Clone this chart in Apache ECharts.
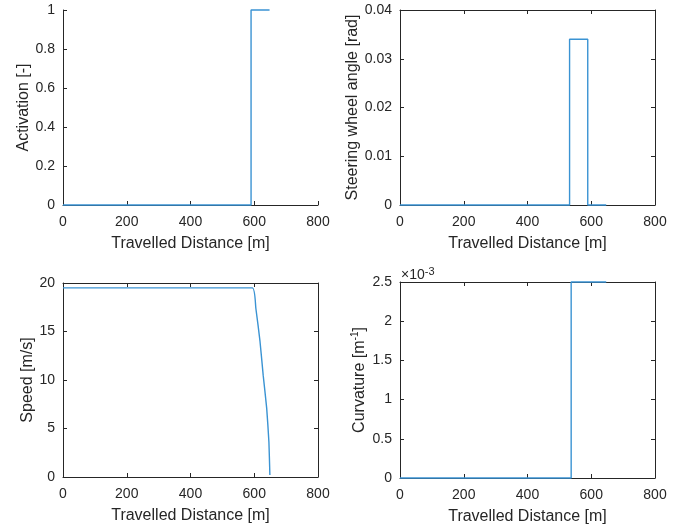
<!DOCTYPE html>
<html>
<head>
<meta charset="utf-8">
<script src="https://cdn.jsdelivr.net/npm/echarts@6/dist/echarts.min.js"></script>
<style>
html,body{margin:0;padding:0;background:#fff;}
#c{width:683px;height:527px;}
</style>
</head>
<body>
<div id="c"></div>
<script>
// ---- data ----
var xTicks = [0, 200, 400, 600, 800];
var distAct = [0, 590, 590, 648];
var activation = [0, 0, 1, 1];

var distSteer = [0, 532, 532, 589, 589, 647];
var steering = [0, 0, 0.034, 0.034, 0, 0];

var distSpeed = [0, 594, 605, 618, 628, 639, 646, 649];
var speed = [19.5, 19.5, 17.4, 14.0, 10.5, 7.1, 3.6, 0.2];

var distCurv = [0, 537, 537, 647];
var curvature = [0, 0, 0.0025, 0.0025];

var yTitles = ['Activation [-]', 'Steering wheel angle [rad]', 'Speed [m/s]', '{a|Curvature [m}{s|-1}{a|]}'];
var xTitle = 'Travelled Distance [m]';

// ---- layout ----
var TXT = '#262626';
var LINE = '#3a93d3';
var FONT = 'Liberation Sans, Arial, sans-serif';
var grids = [
  {left: 63, top: 10, width: 255, height: 195},
  {left: 400, top: 10, width: 255, height: 195},
  {left: 63, top: 283, width: 255, height: 194},
  {left: 400, top: 282, width: 255, height: 196}
];
var yCfg = [
  {min: 0, max: 1, interval: 0.2, gap: 30, fmt: function(v){return v===0?'0':(v===1?'1':v.toFixed(1));}},
  {min: 0, max: 0.04, interval: 0.01, gap: 37, fmt: function(v){return v===0?'0':v.toFixed(2);}},
  {min: 0, max: 20, interval: 5, gap: 25, fmt: function(v){return String(v);}},
  {min: 0, max: 0.0025, interval: 0.0005, gap: 31, fmt: function(v){var r=Math.round(v*10000)/10; return String(r);}}
];
var boxed = [false, true, true, true];
var pairs = [[distAct, activation],[distSteer, steering],[distSpeed, speed],[distCurv, curvature]];

var xAxes = [], yAxes = [], series = [];
for (var i = 0; i < 4; i++) {
  var xi = xAxes.length;
  xAxes.push({
    type: 'value', gridIndex: i, min: 0, max: 800, interval: 200, position: 'bottom',
    axisLine: {show: true, onZero: false, lineStyle: {color: TXT, width: 1}},
    axisTick: {show: true, inside: true, length: 4, lineStyle: {color: TXT}},
    axisLabel: {color: TXT, fontSize: 14, fontFamily: FONT, margin: 10},
    splitLine: {show: false},
    name: xTitle, nameLocation: 'middle', nameGap: 31,
    nameTextStyle: {color: TXT, fontSize: 16, fontFamily: FONT}
  });
  var yi = yAxes.length;
  var yname = yTitles[i];
  yAxes.push({
    type: 'value', gridIndex: i, min: yCfg[i].min, max: yCfg[i].max, interval: yCfg[i].interval, position: 'left',
    axisLine: {show: true, onZero: false, lineStyle: {color: TXT, width: 1}},
    axisTick: {show: true, inside: true, length: 4, lineStyle: {color: TXT}},
    axisLabel: {color: TXT, fontSize: 14, fontFamily: FONT, margin: 8, formatter: yCfg[i].fmt},
    splitLine: {show: false},
    name: yname, nameLocation: 'middle', nameGap: yCfg[i].gap, nameRotate: 90,
    nameTextStyle: {color: TXT, fontSize: 16, fontFamily: FONT,
      rich: {a: {fontSize: 16, fontFamily: FONT, color: TXT}, s: {fontSize: 10, fontFamily: FONT, color: TXT, verticalAlign: 'top', padding: [0,0,9,0]}}}
  });
  if (boxed[i]) {
    xAxes.push({
      type: 'value', gridIndex: i, min: 0, max: 800, interval: 200, position: 'top',
      axisLine: {show: true, onZero: false, lineStyle: {color: TXT, width: 1}},
      axisTick: {show: true, inside: true, length: 4, lineStyle: {color: TXT}},
      axisLabel: {show: false}, splitLine: {show: false}
    });
    yAxes.push({
      type: 'value', gridIndex: i, min: yCfg[i].min, max: yCfg[i].max, interval: yCfg[i].interval, position: 'right',
      axisLine: {show: true, onZero: false, lineStyle: {color: TXT, width: 1}},
      axisTick: {show: true, inside: true, length: 4, lineStyle: {color: TXT}},
      axisLabel: {show: false}, splitLine: {show: false}
    });
  }
  var d = [];
  for (var k = 0; k < pairs[i][0].length; k++) d.push([pairs[i][0][k], pairs[i][1][k]]);
  series.push({
    type: 'line', xAxisIndex: xi, yAxisIndex: yi, data: d, showSymbol: false, symbol: 'none',
    smooth: i === 2 ? 0.15 : false,
    lineStyle: {color: LINE, width: 1.4}, animation: false, clip: false
  });
}

var chart = echarts.init(document.getElementById('c'), null, {renderer: 'canvas'});
chart.setOption({
  backgroundColor: '#ffffff',
  animation: false,
  grid: grids,
  xAxis: xAxes,
  yAxis: yAxes,
  series: series,
  graphic: [{
    type: 'text', left: 401, top: 266,
    style: {
      text: '{a|×10}{s|-3}',
      rich: {a: {fontSize: 14, fontFamily: FONT, fill: TXT, color: TXT}, s: {fontSize: 11, fontFamily: FONT, fill: TXT, color: TXT, verticalAlign: 'top', padding: [0,0,8,0]}}
    }
  }]
});
</script>
</body>
</html>
